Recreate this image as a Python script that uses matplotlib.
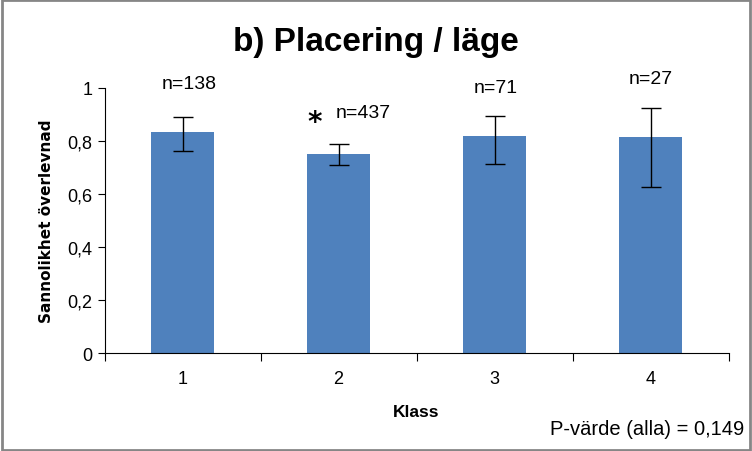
import numpy as np
import matplotlib
matplotlib.use('Agg')
from matplotlib import pyplot as plt
from matplotlib.patches import Rectangle

plt.rcParams['font.family'] = ['Liberation Sans Narrow', 'Liberation Sans', 'DejaVu Sans']

klass = ['1', '2', '3', '4']
sannolikhet = [0.834, 0.752, 0.817, 0.814]
ci_low = [0.760, 0.709, 0.711, 0.625]
ci_high = [0.890, 0.789, 0.892, 0.922]
n_labels = ['n=138', 'n=437', 'n=71', 'n=27']
n_label_y = [1.015, 0.905, 1.0, 1.035]
n_label_dx = [0.045, 0.155, 0.01, 0.0]
stjarna = ['', '*', '', '']

fig = plt.figure(figsize=(7.52, 4.52), dpi=100)
ax = fig.add_axes([0.139, 0.216, 0.830, 0.588])

x = np.arange(len(klass))
yerr = [np.array(sannolikhet) - np.array(ci_low), np.array(ci_high) - np.array(sannolikhet)]
ax.bar(x, sannolikhet, width=0.4, color='#4F81BD', zorder=2)
ax.errorbar(x, sannolikhet, yerr=yerr, fmt='none', ecolor='black', elinewidth=1.0,
            capsize=7, capthick=1.0, zorder=3)

for i in range(len(klass)):
    ax.text(x[i] + n_label_dx[i], n_label_y[i], n_labels[i], ha='center', va='center',
            fontsize=14, clip_on=False)
    if stjarna[i]:
        ax.text(x[i] - 0.155, n_label_y[i] - 0.035, stjarna[i], ha='center', va='center',
                fontsize=20, fontweight='bold', family='DejaVu Sans')

ax.set_xlim(-0.5, len(klass) - 0.5)
ax.set_ylim(0, 1)
ax.set_yticks([0, 0.2, 0.4, 0.6, 0.8, 1.0])
ax.set_yticklabels(['0', '0,2', '0,4', '0,6', '0,8', '1'], fontsize=13)
ax.set_xticks(np.arange(-0.5, len(klass), 1.0))
ax.set_xticklabels([])
ax.set_xticks(x, minor=True)
ax.set_xticklabels(klass, minor=True, fontsize=13)
ax.tick_params(axis='x', which='major', direction='out', length=6, width=0.8)
ax.tick_params(axis='x', which='minor', length=0, pad=12)
ax.tick_params(axis='y', direction='out', length=5, width=0.8)
for s in ['top', 'right']:
    ax.spines[s].set_visible(False)
ax.spines['left'].set_linewidth(0.8)
ax.spines['bottom'].set_linewidth(0.8)

ax.set_ylabel('Sannolikhet överlevnad', fontsize=11, fontweight='bold', family='DejaVu Sans', labelpad=10)
fig.text(0.5 * (0.139 + 0.969), 1 - 413 / 452, 'Klass', ha='center', va='center', fontsize=12.5, fontweight='bold')
fig.text(0.99, 1 - 430 / 452, 'P-värde (alla) = 0,149', ha='right', va='center', fontsize=14.5)
fig.text(0.5, 1 - 43 / 452, 'b) Placering / läge', ha='center', va='center', fontsize=24, fontweight='bold')

fig.patches.append(Rectangle((0.002, 0.003), 0.996, 0.994, transform=fig.transFigure,
                             fill=False, edgecolor='#868686', linewidth=2))

fig.savefig('out.png', dpi=100, facecolor='white')
